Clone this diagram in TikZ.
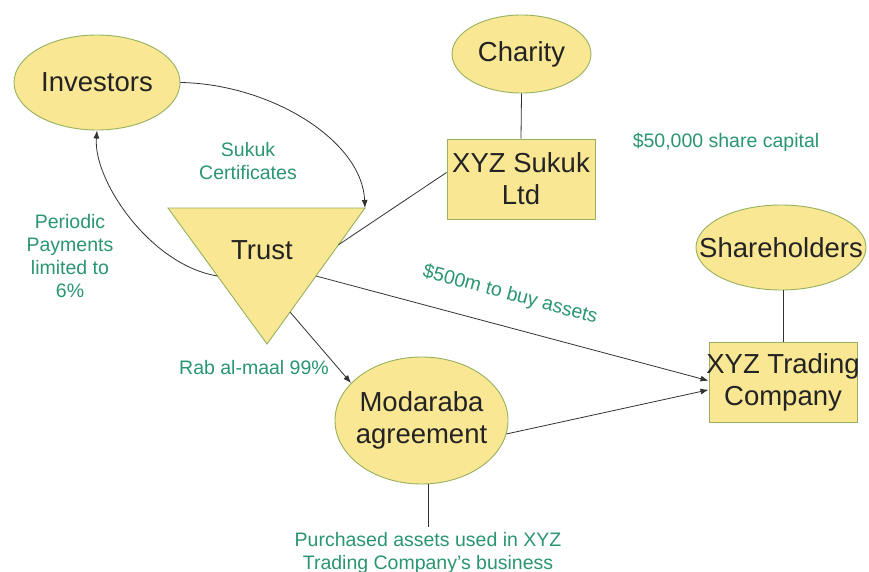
\documentclass[tikz,border=0pt]{standalone}
\usepackage{fontspec}
\setmainfont{Liberation Sans}
\usetikzlibrary{arrows.meta,shapes.geometric,calc}
\definecolor{bubblefill}{RGB}{249,231,148}
\definecolor{bubbleline}{RGB}{150,178,92}
\definecolor{notegreen}{RGB}{42,150,112}
\definecolor{linegray}{RGB}{50,50,50}
\definecolor{inkdark}{RGB}{35,35,35}

\begin{document}
\begin{tikzpicture}[x=1pt, y=-1pt,
  party/.style={ellipse, draw=bubbleline, fill=bubblefill, line width=0.9pt, inner sep=0pt},
  company/.style={rectangle, draw=bubbleline, fill=bubblefill, line width=0.9pt, inner sep=0pt},
  partytext/.style={text=inkdark, font=\fontsize{27.5}{32}\selectfont, align=center, inner sep=0pt},
  remark/.style={text=notegreen, font=\fontsize{19.5}{23}\selectfont, align=center, inner sep=0pt},
  arrow/.style={-{Latex[length=8pt,width=6pt]}, line width=0.8pt, draw=linegray},
  link/.style={line width=0.8pt, draw=linegray}
]
\useasboundingbox[fill=white] (0,0) rectangle (869,572);

\node[party, minimum width=166pt, minimum height=95pt, label={[partytext]center:Investors}] (inv) at (97,82.5) {};
\node[party, minimum width=139pt, minimum height=78pt, label={[partytext]center:Charity}] (charity) at (521.5,54) {};
\node[company, minimum width=148pt, minimum height=80pt, label={[partytext]center:XYZ Sukuk\\Ltd}] (sukuk) at (521,179) {};
\node[party, minimum width=170pt, minimum height=85pt, label={[partytext]center:Shareholders}] (share) at (781,247.5) {};
\node[company, minimum width=148pt, minimum height=80pt, label={[partytext]center:XYZ Trading\\Company}] (trading) at (783,382) {};
\node[party, minimum width=173pt, minimum height=127pt, label={[partytext]center:Modaraba\\agreement}] (mod) at (421.5,420.5) {};

\coordinate (tl) at (168,208);
\coordinate (tr) at (365,208);
\coordinate (tb) at (267,344);
\draw[draw=bubbleline, fill=bubblefill, line width=0.9pt] (tl) -- (tr) -- (tb) -- cycle;
\node[partytext] (trust) at (262,250) {Trust};

\draw[arrow] (inv.east) .. controls (270,84) and (362,140) .. (tr);
\draw[arrow] ($(tl)!0.5!(tb)$) .. controls (150,265) and (93,180) .. (inv.south);
\draw[link] ($(tr)!0.27!(tb)$) -- (sukuk.175);
\draw[link] (charity.south) -- (sukuk.north);
\draw[link] (share.south -| trading.north) -- (trading.north);
\draw[arrow] ($(tr)!0.5!(tb)$) -- (trading.179);
\draw[arrow] ($(tr)!0.765!(tb)$) -- (mod.152);
\draw[arrow] (mod.-9) -- (trading.186);
\coordinate (assetsend) at (428,527);
\draw[link] (mod.south -| assetsend) -- (assetsend);

\node[remark] (certs) at (248,161.5) {Sukuk\\Certificates};
\node[remark] (periodic) at (70,256) {Periodic\\Payments\\limited to\\6\%};
\node[remark] (capital) at (726,142) {\$50,000 share capital};
\node[remark, rotate=-15] (buy) at (510,295) {\$500m to buy assets};
\node[remark] (rab) at (254,368) {Rab al-maal 99\%};
\node[remark, anchor=north, yshift=-5pt] (assets) at (assetsend) {Purchased assets used in XYZ\\Trading Company’s business};
\end{tikzpicture}
\end{document}
